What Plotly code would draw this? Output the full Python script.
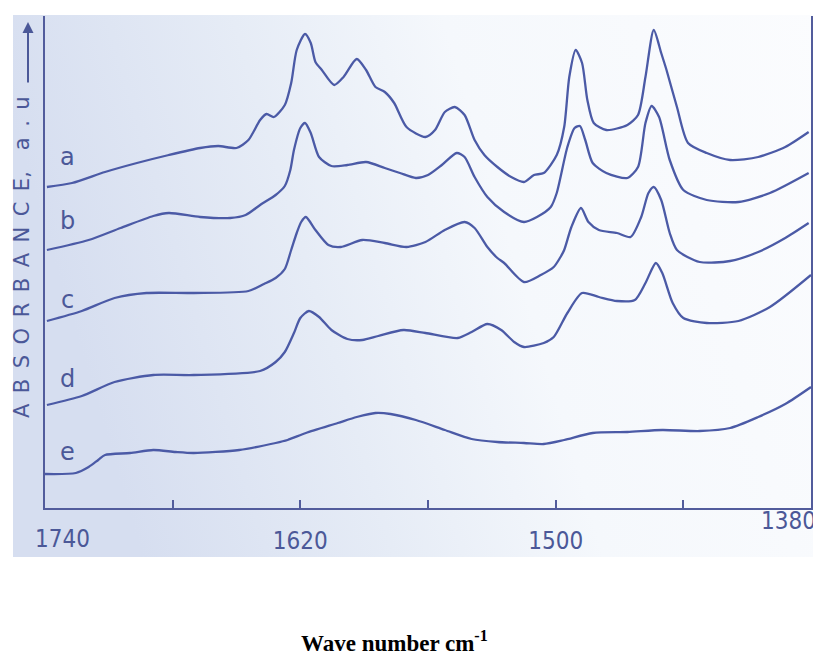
import base64
import plotly.graph_objects as go

# ---- data (wavenumber cm-1, absorbance a.u.) ----
wn_a = [1739.1, 1727.3, 1711.8, 1696.8, 1681.8, 1667.1, 1658.6, 1650.0, 1644.4, 1638.9,
        1635.9, 1632.4, 1627.3, 1624.3, 1621.7, 1617.8, 1615.1, 1612.9, 1609.9, 1604.1,
        1599.7, 1593.5, 1589.1, 1584.7, 1580.3, 1575.9, 1570.1, 1561.2, 1556.7, 1552.1,
        1547.4, 1542.8, 1538.1, 1533.5, 1527.4, 1520.9, 1514.9, 1510.2, 1505.6, 1499.5,
        1496.0, 1493.6, 1490.6, 1487.6, 1485.1, 1482.1, 1476.2, 1466.3, 1461.3, 1457.8,
        1453.9, 1450.4, 1447.9, 1443.0, 1437.8, 1429.0, 1418.0, 1404.8, 1392.1, 1381.1]
abs_a = [3.21, 3.25, 3.36, 3.45, 3.53, 3.60, 3.62, 3.60, 3.68, 3.88,
         3.94, 3.91, 4.03, 4.25, 4.58, 4.74, 4.65, 4.46, 4.38, 4.23,
         4.31, 4.49, 4.38, 4.21, 4.16, 4.05, 3.81, 3.71, 3.78, 3.96,
         4.01, 3.93, 3.68, 3.53, 3.41, 3.31, 3.26, 3.33, 3.35, 3.53,
         3.81, 4.31, 4.58, 4.45, 4.08, 3.85, 3.78, 3.83, 3.93, 4.31,
         4.78, 4.55, 4.38, 4.01, 3.65, 3.55, 3.48, 3.51, 3.61, 3.76]

wn_b = [1739.1, 1719.5, 1704.5, 1689.1, 1681.8, 1667.1, 1653.0, 1645.7, 1638.9, 1631.6,
        1627.3, 1624.7, 1623.0, 1620.0, 1617.8, 1615.1, 1611.2, 1605.4, 1597.9, 1589.1,
        1580.3, 1573.2, 1565.7, 1560.0, 1553.5, 1546.5, 1542.8, 1538.1, 1532.1, 1524.2,
        1514.9, 1508.8, 1502.3, 1499.5, 1494.5, 1491.1, 1488.6, 1486.1, 1482.6, 1476.2,
        1466.3, 1461.3, 1457.8, 1454.9, 1451.4, 1446.4, 1440.0, 1429.0, 1414.1, 1399.3,
        1381.1]
abs_b = [2.58, 2.68, 2.80, 2.92, 2.95, 2.91, 2.90, 2.93, 3.03, 3.13,
         3.22, 3.38, 3.58, 3.80, 3.85, 3.75, 3.51, 3.42, 3.43, 3.46,
         3.40, 3.35, 3.30, 3.33, 3.43, 3.55, 3.51, 3.31, 3.11, 2.96,
         2.86, 2.91, 3.01, 3.15, 3.61, 3.80, 3.82, 3.68, 3.45, 3.35,
         3.30, 3.41, 3.85, 4.02, 3.91, 3.48, 3.18, 3.08, 3.06, 3.15,
         3.35]

wn_c = [1739.1, 1722.7, 1707.3, 1692.3, 1670.1, 1644.4, 1637.1, 1631.6, 1627.3, 1624.3,
        1621.7, 1619.6, 1617.4, 1612.9, 1606.8, 1601.0, 1590.9, 1580.3, 1570.1, 1561.2,
        1552.1, 1542.8, 1538.1, 1532.1, 1527.4, 1524.2, 1514.9, 1507.0, 1500.9, 1498.0,
        1496.0, 1492.6, 1488.1, 1484.6, 1479.7, 1471.2, 1464.8, 1459.8, 1456.4, 1453.9,
        1450.4, 1446.4, 1443.0, 1432.3, 1418.0, 1404.8, 1392.1, 1381.1]
abs_c = [1.87, 1.97, 2.10, 2.15, 2.15, 2.17, 2.24, 2.30, 2.39, 2.58,
         2.75, 2.86, 2.91, 2.78, 2.63, 2.61, 2.68, 2.65, 2.61, 2.66,
         2.78, 2.86, 2.80, 2.61, 2.50, 2.45, 2.26, 2.33, 2.41, 2.50,
         2.58, 2.81, 3.00, 2.86, 2.78, 2.75, 2.71, 2.91, 3.15, 3.21,
         3.08, 2.75, 2.58, 2.46, 2.47, 2.56, 2.70, 2.85]

wn_d = [1739.1, 1722.7, 1707.3, 1689.1, 1670.1, 1638.9, 1631.6, 1627.3, 1623.0, 1620.0,
        1616.0, 1611.2, 1605.4, 1597.9, 1590.9, 1583.4, 1571.5, 1561.2, 1546.0, 1539.5,
        1532.1, 1525.6, 1519.5, 1514.9, 1505.6, 1500.9, 1494.5, 1487.6, 1479.7, 1471.2,
        1462.8, 1457.8, 1452.9, 1449.9, 1445.0, 1440.0, 1429.0, 1414.1, 1399.3, 1380.0]
abs_d = [1.03, 1.12, 1.26, 1.33, 1.33, 1.37, 1.46, 1.56, 1.75, 1.90,
         1.97, 1.91, 1.78, 1.69, 1.68, 1.72, 1.78, 1.75, 1.70, 1.76,
         1.84, 1.78, 1.66, 1.61, 1.65, 1.71, 1.95, 2.15, 2.11, 2.07,
         2.08, 2.25, 2.45, 2.35, 2.05, 1.90, 1.85, 1.87, 2.01, 2.33]

wn_e = [1740.0, 1725.5, 1719.5, 1715.0, 1711.8, 1700.0, 1689.1, 1678.7, 1670.1, 1648.7,
        1631.6, 1626.0, 1617.4, 1602.4, 1593.5, 1584.7, 1577.6, 1565.7, 1552.1, 1539.5,
        1527.4, 1514.9, 1505.6, 1496.0, 1482.6, 1466.3, 1449.9, 1432.3, 1418.0, 1404.8,
        1392.1, 1380.0]
abs_e = [0.34, 0.35, 0.41, 0.48, 0.53, 0.55, 0.58, 0.56, 0.55, 0.58,
         0.65, 0.68, 0.75, 0.85, 0.91, 0.95, 0.94, 0.88, 0.78, 0.69,
         0.66, 0.65, 0.64, 0.68, 0.75, 0.76, 0.78, 0.77, 0.80, 0.91,
         1.04, 1.21]

curve_names = ["a", "b", "c", "d", "e"]
major_ticks = [1620, 1500]
major_text = ["1620", "1500"]
minor_ticks = [1680, 1560, 1440]
end_labels = ["1740", "1380"]

# ---- style ----
CURVE = "#4b5aa6"
AXIS = "#525c9c"
TEXT = "#4b5898"
NUMFONT = "DejaVu Sans Condensed, Liberation Sans Narrow, Liberation Sans"

fig = go.Figure()
for nm, xs, ys in zip(curve_names, [wn_a, wn_b, wn_c, wn_d, wn_e],
                      [abs_a, abs_b, abs_c, abs_d, abs_e]):
    fig.add_trace(go.Scatter(x=xs, y=ys, mode="lines", name=nm, showlegend=False,
                             hoverinfo="skip",
                             line=dict(color=CURVE, width=2.3, shape="spline", smoothing=0.7)))

# scanned-paper background gradient
svg = ('<svg xmlns="http://www.w3.org/2000/svg" width="808" height="542" preserveAspectRatio="none">'
       '<defs><linearGradient id="g" x1="0" y1="0.2" x2="1" y2="0">'
       '<stop offset="0" stop-color="#d6def0"/><stop offset="0.3" stop-color="#e6ecf6"/>'
       '<stop offset="0.55" stop-color="#f5f8fc"/><stop offset="1" stop-color="#fbfcfe"/>'
       '</linearGradient></defs><rect width="808" height="542" fill="url(#g)"/></svg>')
src = "data:image/svg+xml;base64," + base64.b64encode(svg.encode()).decode()

# page body has an 8px margin: figure sized to fit the 821x665 window
OFF = 8
W, H = 821 - OFF, 665 - 2 * OFF
L, T = 45 - OFF, 16 - OFF
R = W - (811 - OFF)
B = H - (508 - OFF)
pw, ph = W - L - R, H - T - B


def px(xs):
    return (xs - OFF - L) / pw


def py(ys):
    return (H - B - (ys - OFF)) / ph


fig.add_layout_image(dict(source=src, xref="paper", yref="paper",
                          x=px(13), y=py(15), sizex=(821 - 13) / pw, sizey=(557 - 15) / ph,
                          xanchor="left", yanchor="top", sizing="stretch", layer="below"))

annotations = []
label_y = [157, 221, 300, 379, 452]
for nm, yy in zip(curve_names, label_y):
    annotations.append(dict(text=nm, xref="paper", yref="paper", x=px(67), y=py(yy),
                            xanchor="center", yanchor="middle", showarrow=False,
                            font=dict(family="DejaVu Sans", size=24, color=TEXT)))
annotations.append(dict(text=end_labels[0], xref="paper", yref="paper", x=px(62), y=py(539),
                        xanchor="center", yanchor="middle", showarrow=False,
                        font=dict(family=NUMFONT, size=24, color=TEXT)))
annotations.append(dict(text=end_labels[1], xref="paper", yref="paper", x=px(818), y=py(521),
                        xanchor="right", yanchor="middle", showarrow=False,
                        font=dict(family=NUMFONT, size=24, color=TEXT)))
sp = "\u2002"
ytitle = sp.join("ABSORBANCE") + ",\u2003a" + sp + "." + sp + "u"
annotations.append(dict(text=ytitle, xref="paper", yref="paper", x=px(22), y=py(257),
                        xanchor="center", yanchor="middle", textangle=-90, showarrow=False,
                        font=dict(family="DejaVu Sans", size=21, color=TEXT)))
annotations.append(dict(text="", xref="paper", yref="paper", x=px(28), y=py(22),
                        showarrow=True, ax=0, ay=62, arrowhead=2, arrowsize=1.1,
                        arrowwidth=2, arrowcolor=TEXT))
annotations.append(dict(text="<b>Wave number cm<sup>-1</sup></b>", xref="paper", yref="paper",
                        x=px(394), y=py(658), xanchor="center", yanchor="bottom",
                        showarrow=False,
                        font=dict(family="Liberation Serif", size=23, color="#000000")))

fig.update_layout(
    width=W, height=H,
    margin=dict(l=L, r=R, t=T, b=B, autoexpand=False),
    paper_bgcolor="white",
    plot_bgcolor="rgba(0,0,0,0)",
    showlegend=False,
    annotations=annotations,
    xaxis=dict(range=[1740, 1380], showgrid=False, zeroline=False,
               showline=True, linecolor=AXIS, linewidth=2, mirror=False,
               ticks="inside", ticklen=8, tickwidth=1.5, tickcolor=AXIS,
               tickvals=major_ticks, ticktext=major_text, ticklabelstandoff=10,
               minor=dict(tickvals=minor_ticks, ticks="inside", ticklen=8,
                          tickwidth=1.5, tickcolor=AXIS, showgrid=False),
               tickfont=dict(family=NUMFONT, size=24, color=TEXT)),
    yaxis=dict(range=[0, 4.92], showgrid=False, zeroline=False,
               showline=True, linecolor=AXIS, linewidth=2, mirror=True,
               ticks="", showticklabels=False),
)

fig.write_html("out.html")
